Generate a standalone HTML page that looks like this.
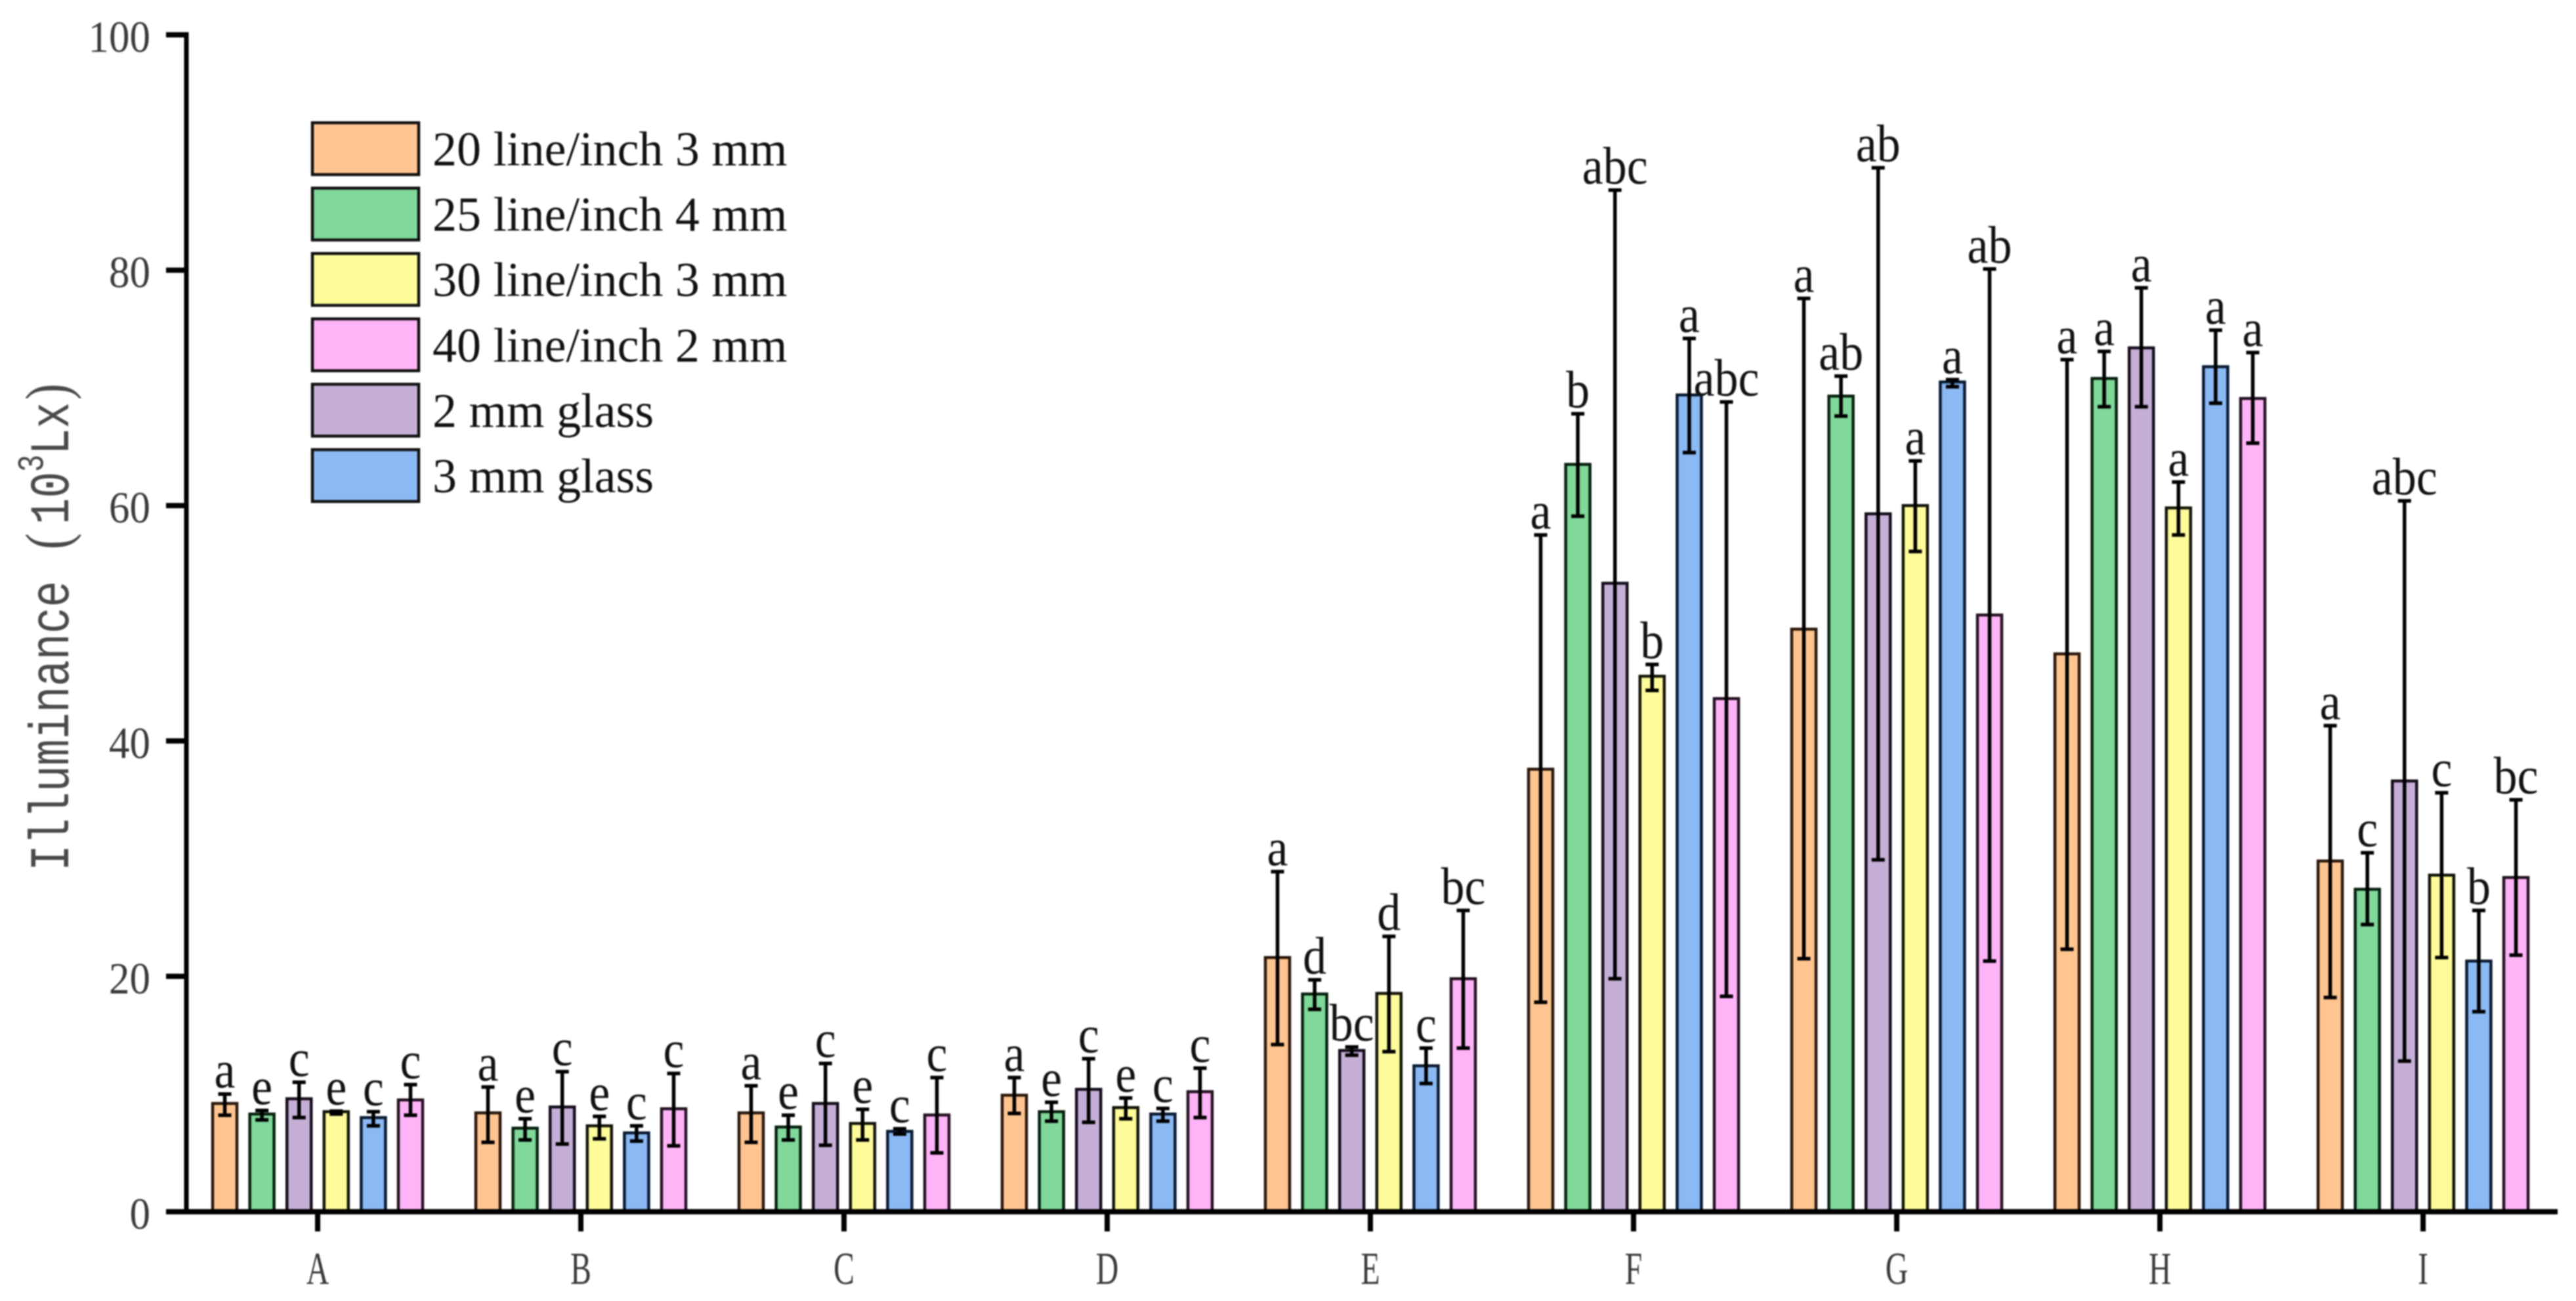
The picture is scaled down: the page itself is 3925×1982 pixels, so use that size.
<!DOCTYPE html>
<html lang="en">
<head>
<meta charset="utf-8">
<title>Illuminance bar chart</title>
<style>
html,body{margin:0;padding:0;background:#fff;}
#chart{display:block;width:3925px;height:1982px;filter:blur(1px);}
text{font-family:"Liberation Serif",serif;}
</style>
</head>
<body>
<svg id="chart" xmlns="http://www.w3.org/2000/svg" width="3925" height="1982" viewBox="0 0 3925 1982">
  <rect x="0" y="0" width="3925" height="1982" fill="#ffffff"/>
  <g id="bars"></g>
  <g id="errors"></g>
  <g id="letters"></g>
  <g id="axes"></g>
  <g id="legend"></g>
  <text transform="translate(104,1327) rotate(-90) scale(1,1.28)" fill="#4a4a4a" font-size="67" style="font-family:'Liberation Mono',monospace"><tspan x="0">Illuminance</tspan><tspan x="490" font-size="74" style="font-family:'Liberation Serif',serif">(</tspan><tspan x="528">10</tspan><tspan x="608" dy="-30" font-size="44">3</tspan><tspan x="634" dy="30">Lx</tspan><tspan x="718" font-size="74" style="font-family:'Liberation Serif',serif">)</tspan></text>
</svg>
<script>
const categories = ["A","B","C","D","E","F","G","H","I"];
const yTicks = [0,20,40,60,80,100];

const orangeName = "20 line/inch 3 mm";
const orangeMean = [9.2,8.4,8.4,9.9,21.6,37.6,49.5,47.4,29.8];
const orangeHigh = [10.0,10.6,10.7,11.4,28.9,57.5,77.6,72.4,41.3];
const orangeLow = [8.2,5.9,5.9,8.35,14.2,17.8,21.5,22.3,18.2];
const orangeLetters = ["a","a","a","a","a","a","a","a","a"];

const greenName = "25 line/inch 4 mm";
const greenMean = [8.3,7.1,7.2,8.5,18.5,63.5,69.3,70.8,27.4];
const greenHigh = [8.6,7.9,8.2,9.3,19.7,67.8,71.0,73.1,30.5];
const greenLow = [7.8,6.1,6.1,7.7,17.2,59.1,67.6,68.4,24.4];
const greenLetters = ["e","e","e","e","d","b","ab","a","c"];

const purpleName = "2 mm glass";
const purpleMean = [9.6,8.9,9.2,10.4,13.7,53.4,59.3,73.4,36.6];
const purpleHigh = [11.0,11.9,12.6,13.0,14.0,86.8,88.7,78.5,60.4];
const purpleLow = [8.0,5.75,5.65,7.6,13.3,19.8,29.9,68.4,12.8];
const purpleLetters = ["c","c","c","c","bc","abc","ab","a","abc"];

const yellowName = "30 line/inch 3 mm";
const yellowMean = [8.5,7.3,7.5,8.85,18.55,45.5,60.0,59.8,28.6];
const yellowHigh = [8.55,8.1,8.7,9.66,23.4,46.5,63.8,62.0,35.6];
const yellowLow = [8.3,6.2,6.1,7.9,13.6,44.3,56.1,57.5,21.6];
const yellowLetters = ["e","e","e","e","d","b","a","a","c"];

const blueName = "3 mm glass";
const blueMean = [8.0,6.7,6.83,8.3,12.4,69.4,70.5,71.8,21.3];
const blueHigh = [8.5,7.3,7.05,8.78,13.9,74.2,70.7,74.9,25.6];
const blueLow = [7.3,6.0,6.6,7.7,10.9,64.5,70.1,68.7,17.0];
const blueLetters = ["c","c","c","c","c","a","a","a","b"];

const pinkName = "40 line/inch 2 mm";
const pinkMean = [9.5,8.75,8.22,10.2,19.8,43.6,50.7,69.1,28.4];
const pinkHigh = [10.8,11.75,11.4,12.2,25.6,68.8,80.1,73.0,35.0];
const pinkLow = [8.2,5.6,5.0,8.0,13.9,18.3,21.3,65.3,21.8];
const pinkLetters = ["c","c","c","c","bc","abc","ab","a","bc"];

const NS = "http://www.w3.org/2000/svg";
const plotBottom = 1846;
const plotTop = 53;
const axisLeft = 284;
const axisRight = 3897;
const firstGroup = 484;
const groupStep = 401;
const barStep = 56.6;
const barWidth = 37;

function yScale(v){ return plotBottom - v * (plotBottom - plotTop) / 100; }
function xScale(g, s){ return firstGroup + g * groupStep + (s - 2.5) * barStep; }
function groupX(g){ return firstGroup + g * groupStep; }

function make(tag, attrs, parent){
  const el = document.createElementNS(NS, tag);
  for (const k in attrs) el.setAttribute(k, attrs[k]);
  parent.appendChild(el);
  return el;
}

const plotted = [
  {key:"orange", color:"#FFC590", stroke:"#2a180c", mean:orangeMean, high:orangeHigh, low:orangeLow, letters:orangeLetters},
  {key:"green", color:"#80D89A", stroke:"#08200f", mean:greenMean, high:greenHigh, low:greenLow, letters:greenLetters},
  {key:"purple", color:"#C5AFD6", stroke:"#150d1c", mean:purpleMean, high:purpleHigh, low:purpleLow, letters:purpleLetters},
  {key:"yellow", color:"#FDFB9A", stroke:"#14140a", mean:yellowMean, high:yellowHigh, low:yellowLow, letters:yellowLetters},
  {key:"blue", color:"#8BB9F3", stroke:"#0a1a30", mean:blueMean, high:blueHigh, low:blueLow, letters:blueLetters},
  {key:"pink", color:"#FFB4F8", stroke:"#241222", mean:pinkMean, high:pinkHigh, low:pinkLow, letters:pinkLetters}
];

const barsLayer = document.getElementById("bars");
const errorsLayer = document.getElementById("errors");
const lettersLayer = document.getElementById("letters");
const axesLayer = document.getElementById("axes");
const legendLayer = document.getElementById("legend");

plotted.forEach(function(series, s){
  categories.forEach(function(cat, g){
    const cx = xScale(g, s);
    const top = yScale(series.mean[g]);
    const bar = make("rect", {x:cx - barWidth/2, y:top, width:barWidth, height:plotBottom - top, fill:series.color, stroke:series.stroke, "stroke-width":4.5}, barsLayer);
    
    

    const hi = yScale(series.high[g]);
    const lo = yScale(series.low[g]);
    const whisker = make("path", {d:"M"+cx+" "+hi+"V"+lo+"M"+(cx-10)+" "+hi+"H"+(cx+10)+"M"+(cx-10)+" "+lo+"H"+(cx+10), fill:"none", stroke:"#000", "stroke-width":5.5}, errorsLayer);
    
    

    const letter = make("text", {transform:"translate("+cx+","+(hi - 10)+") scale(1,1.12)", "text-anchor":"middle", "font-size":72, fill:"#111"}, lettersLayer);
    
    
    letter.textContent = series.letters[g];
  });
});

const yAxisLine = make("line", {x1:axisLeft, y1:plotTop - 4, x2:axisLeft, y2:plotBottom + 4, stroke:"#000", "stroke-width":7}, axesLayer);



const xAxisLine = make("line", {x1:axisLeft - 31, y1:plotBottom, x2:axisRight, y2:plotBottom, stroke:"#000", "stroke-width":8}, axesLayer);



yTicks.forEach(function(t){
  const y = yScale(t);
  const tick = make("line", {x1:axisLeft - 31, y1:y, x2:axisLeft, y2:y, stroke:"#000", "stroke-width":8}, axesLayer);
  
  
  const label = make("text", {transform:"translate(229,"+(y + 26)+") scale(1,1.07)", "text-anchor":"end", "font-size":63, fill:"#3a3a3a"}, axesLayer);
  
  
  label.textContent = t;
});

categories.forEach(function(cat, g){
  const x = groupX(g);
  const tick = make("line", {x1:x, y1:plotBottom, x2:x, y2:1876, stroke:"#000", "stroke-width":8}, axesLayer);
  
  
  const label = make("text", {transform:"translate("+x+",1956) scale(0.68,1)", "text-anchor":"middle", "font-size":70, fill:"#3a3a3a"}, axesLayer);
  
  
  label.textContent = cat;
});

const legendNames = [orangeName, greenName, yellowName, pinkName, purpleName, blueName];
const legendColors = ["#FFC590","#80D89A","#FDFB9A","#FFB4F8","#C5AFD6","#8BB9F3"];
legendNames.forEach(function(name, i){
  const y = 187 + i * 99.6;
  const swatch = make("rect", {x:476, y:y, width:162, height:79, fill:legendColors[i], stroke:"#111", "stroke-width":4.5}, legendLayer);
  
  
  const label = make("text", {x:659, y:252 + i * 99.6, "font-size":74, fill:"#111"}, legendLayer);
  
  
  label.textContent = name;
});
</script>
</body>
</html>
